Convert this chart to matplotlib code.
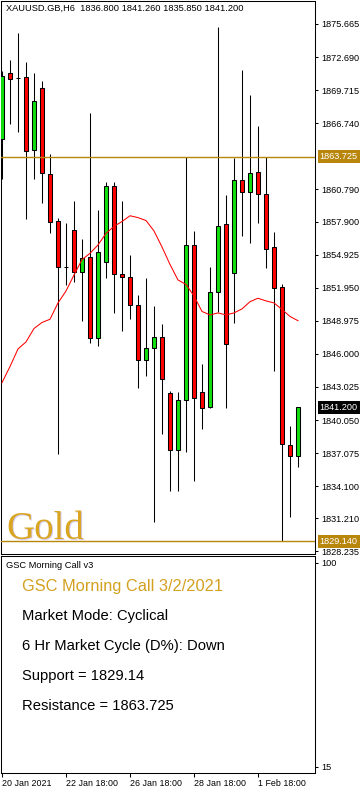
import matplotlib
matplotlib.use("Agg")
import matplotlib.pyplot as plt
import numpy as np
from matplotlib.transforms import offset_copy

# -----------------------------
# Data (XAUUSD H6 candles)
# -----------------------------
opens = [1865.32, 1871.26, 1870.85, 1870.90, 1864.33, 1869.91, 1862.18, 1857.95,
         1853.85, 1857.14, 1853.36, 1854.71, 1847.43, 1854.26, 1861.10, 1853.18,
         1852.91, 1850.40, 1845.45, 1846.53, 1847.52, 1842.48, 1837.35, 1841.85,
         1855.79, 1842.57, 1841.22, 1851.56, 1857.68, 1853.27, 1861.64, 1860.56,
         1862.36, 1860.38, 1855.61, 1852.01, 1837.80, 1836.80]
highs = [1871.44, 1872.43, 1874.86, 1872.25, 1871.26, 1870.54, 1863.97, 1858.22,
         1857.77, 1859.75, 1856.33, 1867.66, 1858.94, 1861.46, 1861.46, 1859.75,
         1854.89, 1851.29, 1852.82, 1850.31, 1848.69, 1842.66, 1842.57, 1863.70,
         1857.05, 1845.09, 1853.81, 1875.40, 1860.29, 1863.61, 1871.53, 1869.28,
         1866.49, 1863.70, 1856.96, 1852.28, 1839.51, 1841.26]
lows = [1861.73, 1866.67, 1865.95, 1858.13, 1861.73, 1859.57, 1856.87, 1837.00,
        1852.19, 1852.46, 1848.96, 1846.98, 1846.71, 1852.82, 1849.68, 1848.06,
        1849.14, 1842.93, 1844.01, 1830.88, 1838.79, 1833.67, 1833.67, 1837.18,
        1834.57, 1839.24, 1841.13, 1849.77, 1841.13, 1848.78, 1856.60, 1855.97,
        1857.77, 1853.72, 1844.46, 1829.14, 1831.33, 1835.85]
closes = [1870.99, 1870.72, 1870.80, 1864.24, 1868.74, 1862.27, 1857.86, 1853.81,
          1853.78, 1853.36, 1854.62, 1847.43, 1855.16, 1861.10, 1853.18, 1852.91,
          1850.40, 1845.45, 1846.53, 1847.52, 1843.74, 1837.35, 1841.85, 1855.79,
          1842.03, 1841.13, 1851.56, 1857.50, 1846.89, 1861.64, 1860.56, 1862.27,
          1860.38, 1855.43, 1851.92, 1837.89, 1836.82, 1841.20]

# moving average (red line)
ma_values = [1843.41, 1844.86, 1846.44, 1847.07, 1848.28, 1848.82, 1849.11, 1850.58,
             1851.65, 1853.09, 1854.47, 1855.04, 1855.79, 1856.83, 1857.46, 1857.90,
             1858.42, 1858.25, 1857.99, 1857.05, 1855.61, 1854.04, 1852.64, 1852.24,
             1851.20, 1849.81, 1849.50, 1849.68, 1849.50, 1849.68, 1850.04, 1850.69,
             1851.00, 1850.76, 1850.58, 1849.99, 1849.36, 1848.98]

price_ticks = [1875.665, 1872.690, 1869.715, 1866.740, 1860.790, 1857.900,
               1854.925, 1851.950, 1848.975, 1846.000, 1843.025, 1840.050,
               1837.075, 1834.100, 1831.210, 1828.235]
price_tick_labels = [f"{v:.3f}" for v in price_ticks]

date_tick_pos = [0, 8, 16, 24, 32]
date_tick_labels = ["20 Jan 2021", "22 Jan 18:00", "26 Jan 18:00",
                    "28 Jan 18:00", "1 Feb 18:00"]

support = 1829.14
resistance = 1863.725
last_price = 1841.200
header = "XAUUSD.GB,H6  1836.800 1841.260 1835.850 1841.200"

panel_title = "GSC Morning Call 3/2/2021"
panel_lines = ["Market Mode: Cyclical",
               "6 Hr Market Cycle (D%): Down",
               "Support = 1829.14",
               "Resistance = 1863.725"]
sub_ticks = [15, 100]

# -----------------------------
# Figure layout (pixel based)
# -----------------------------
W, H = 363, 790
fig = plt.figure(figsize=(W / 100, H / 100), dpi=100)
fig.patch.set_facecolor("white")

FONT = "Liberation Sans"
GOLD_LINE = "#B8860B"
GOLD_TEXT = "#D4A020"
LW = 0.75

ax = fig.add_axes([1 / W, (H - 554) / H, 314 / W, 553 / H])
ax2 = fig.add_axes([1 / W, (H - 773) / H, 314 / W, 217 / H])

x = np.arange(len(opens))
o = np.array(opens)
c = np.array(closes)
colors = np.where(c >= o, "#10E010", "#FF0000")

# wicks and bodies
ax.vlines(x, lows, highs, color="black", lw=LW, zorder=2)
ax.bar(x, np.abs(c - o), bottom=np.minimum(o, c), width=0.6,
       color=colors, edgecolor="black", linewidth=LW, zorder=3)

ax.plot(x, ma_values, color="#FF0000", lw=LW, zorder=4)

# support / resistance
ax.axhline(resistance, color=GOLD_LINE, lw=1.0, zorder=5)
ax.axhline(support, color=GOLD_LINE, lw=1.0, zorder=5)

ax.set_xlim(-0.125, 39.125)
ax.set_ylim(1828.00, 1877.73)

ax.yaxis.tick_right()
ax.set_yticks(price_ticks)
ax.set_yticklabels(price_tick_labels, fontfamily=FONT)
ax.tick_params(axis="y", direction="out", length=2.5, width=LW, pad=2,
               labelsize=6.6, colors="black")
ax.set_xticks([])
for sp in ax.spines.values():
    sp.set_linewidth(LW)

# highlighted price labels
lab_tr = offset_copy(ax.get_yaxis_transform(), fig=fig, x=3.3, units="points")
for val, fc in [(resistance, GOLD_LINE), (support, GOLD_LINE), (last_price, "black")]:
    ax.text(1.0, val, f"{val:.3f}", transform=lab_tr, ha="left", va="center",
            fontsize=6.6, fontfamily=FONT, color="white", zorder=10,
            bbox=dict(boxstyle="square,pad=0.22", fc=fc, ec="none"))

# header and watermark
fig.text(6 / W, 1 - 8.5 / H, header, ha="left", va="center",
         fontsize=6.7, fontfamily=FONT, color="black")
fig.text(7.5 / W, 1 - 540 / H, "Gold", ha="left", va="baseline",
         fontsize=28, fontfamily="Liberation Serif", color="#D4CCF0")
fig.text(6 / W, 1 - 539 / H, "Gold", ha="left", va="baseline",
         fontsize=28, fontfamily="Liberation Serif", color="#DAA520")

# -----------------------------
# Lower indicator panel
# -----------------------------
ax2.set_xlim(-0.125, 39.125)
ax2.set_ylim(12.5, 102.9)
ax2.yaxis.tick_right()
ax2.set_yticks(sub_ticks)
ax2.set_yticklabels([str(t) for t in sub_ticks], fontfamily=FONT)
ax2.tick_params(axis="y", direction="out", length=2.5, width=LW, pad=2,
                labelsize=6.6)
ax2.set_xticks(date_tick_pos)
ax2.set_xticklabels(date_tick_labels, fontfamily=FONT)
ax2.tick_params(axis="x", direction="out", length=3, width=LW, pad=1.5,
                labelsize=6.4)
for lbl in ax2.get_xticklabels():
    lbl.set_ha("left")
for sp in ax2.spines.values():
    sp.set_linewidth(LW)

fig.text(6 / W, 1 - 566 / H, "GSC Morning Call v3", ha="left", va="center",
         fontsize=6.7, fontfamily=FONT, color="black")
fig.text(22 / W, 1 - 586 / H, panel_title, ha="left", va="center",
         fontsize=11.8, fontfamily=FONT, color=GOLD_TEXT)
for k, line in enumerate(panel_lines):
    fig.text(22 / W, 1 - (616 + 30 * k) / H, line, ha="left", va="center",
             fontsize=10.6, fontfamily=FONT, color="black")

fig.savefig("out.png", dpi=100)
